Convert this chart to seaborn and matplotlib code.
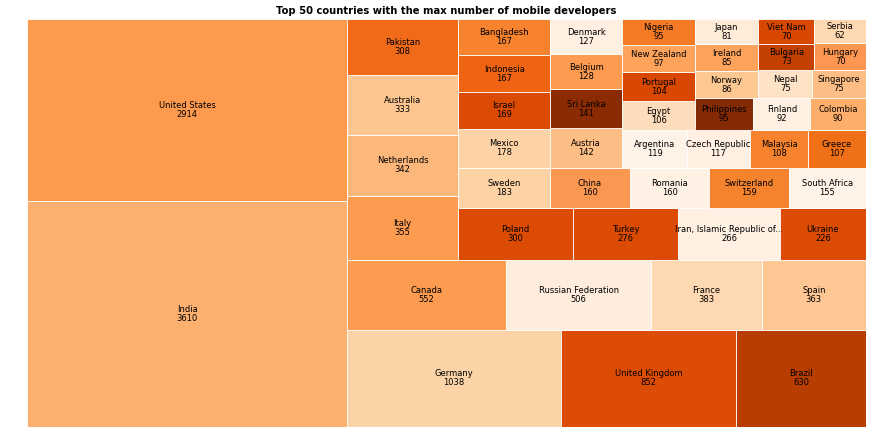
import matplotlib
matplotlib.use("Agg")
import matplotlib.pyplot as plt
import seaborn as sns

countries = ["India", "United States", "Germany", "United Kingdom", "Brazil", "Canada",
             "Russian Federation", "France", "Spain", "Italy", "Netherlands", "Australia",
             "Pakistan", "Poland", "Turkey", "Iran, Islamic Republic of...", "Ukraine",
             "Sweden", "Mexico", "Israel", "Indonesia", "Bangladesh", "China", "Romania",
             "Switzerland", "South Africa", "Austria", "Sri Lanka", "Belgium", "Denmark",
             "Argentina", "Czech Republic", "Malaysia", "Greece", "Egypt", "Portugal",
             "New Zealand", "Nigeria", "Philippines", "Finland", "Colombia", "Norway",
             "Ireland", "Japan", "Nepal", "Singapore", "Bulgaria", "Viet Nam", "Hungary",
             "Serbia"]
counts = [3610, 2914, 1038, 852, 630, 552, 506, 383, 363, 355, 342, 333, 308, 300, 276,
          266, 226, 183, 178, 169, 167, 167, 160, 160, 159, 155, 142, 141, 128, 127, 119,
          117, 108, 107, 106, 104, 97, 95, 95, 92, 90, 86, 85, 81, 75, 75, 73, 70, 70, 62]
colors = ["#fbb06f", "#fd9a4e", "#fcd3a6", "#dc4c04", "#b83d02", "#fd9b50",
          "#feeddc", "#fdd8b0", "#fdc692", "#fd9b50", "#fdb77a", "#fdc690",
          "#f06a1a", "#dc4b03", "#dc4b03", "#fff0e2", "#dc4b03",
          "#fdd3a6", "#fdd3a6", "#dc4b03", "#ee6412", "#f7832e", "#fb9751", "#fff1e4",
          "#f5822d", "#fff3e8", "#fdbe86", "#8a2b04", "#fd9b50", "#fff0e1",
          "#fff3e8", "#fff0e1", "#f7822d", "#f07017", "#fddcbc", "#d94801",
          "#fda35c", "#f57a25", "#842a04", "#fff0e1", "#fdae6b", "#fdc792",
          "#fda35c", "#feebd8", "#fee2c6", "#fdbd84", "#c54102", "#d84801", "#fd9650",
          "#fdd8b0"]


def normalize(sizes, dx, dy):
    total = float(sum(sizes))
    return [s * dx * dy / total for s in sizes]


def layoutrow(sizes, x, y, dx, dy):
    w = sum(sizes) / dy
    out = []
    for s in sizes:
        out.append((x, y, w, s / w))
        y += s / w
    return out


def layoutcol(sizes, x, y, dx, dy):
    h = sum(sizes) / dx
    out = []
    for s in sizes:
        out.append((x, y, s / h, h))
        x += s / h
    return out


def layout(sizes, x, y, dx, dy):
    return layoutrow(sizes, x, y, dx, dy) if dx >= dy else layoutcol(sizes, x, y, dx, dy)


def leftover(sizes, x, y, dx, dy):
    a = sum(sizes)
    if dx >= dy:
        w = a / dy
        return x + w, y, dx - w, dy
    h = a / dx
    return x, y + h, dx, dy - h


def worst(sizes, x, y, dx, dy):
    return max(max(r[2] / r[3], r[3] / r[2]) for r in layout(sizes, x, y, dx, dy))


def squarify(sizes, x, y, dx, dy):
    if not sizes:
        return []
    if len(sizes) == 1:
        return layout(sizes, x, y, dx, dy)
    i = 1
    while i < len(sizes) and worst(sizes[:i], x, y, dx, dy) >= worst(sizes[:i + 1], x, y, dx, dy):
        i += 1
    cur, rem = sizes[:i], sizes[i:]
    lx, ly, ldx, ldy = leftover(cur, x, y, dx, dy)
    return layout(cur, x, y, dx, dy) + squarify(rem, lx, ly, ldx, ldy)


sns.set_style("white")
fig = plt.figure(figsize=(8.8, 4.48), dpi=100)
ax = fig.add_axes([27 / 880, 1 - 427 / 448, 839 / 880, 408 / 448])

rects = squarify(normalize(counts, 100, 100), 0, 0, 100, 100)
xs = [r[0] for r in rects]
ys = [r[1] for r in rects]
ws = [r[2] for r in rects]
hs = [r[3] for r in rects]
ax.bar(xs, hs, width=ws, bottom=ys, align="edge", color=colors,
       edgecolor="white", linewidth=0.6)
for (x, y, w, h), name, c in zip(rects, countries, counts):
    ax.text(x + w / 2, y + h / 2, f"{name}\n{c}", ha="center", va="center",
            fontsize=6.0, color="black", linespacing=1.0)

ax.set_xlim(0, 100)
ax.set_ylim(0, 100)
ax.axis("off")
ax.text(0.5, 1 + 8.5 / 408, "Top 50 countries with the max number of mobile developers",
        transform=ax.transAxes, fontsize=7.2, fontweight="bold", color="black",
        ha="center", va="center")
fig.savefig("out.png", dpi=100)
